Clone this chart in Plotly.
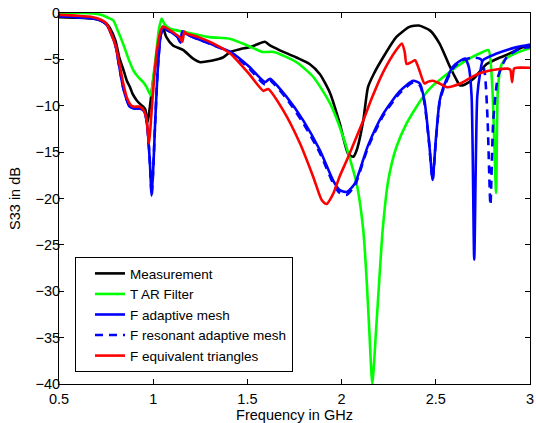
import plotly.graph_objects as go

# Measured S33 (dB) versus frequency (GHz)
meas_f = [0.5, 0.6, 0.68, 0.72, 0.75, 0.77, 0.80, 0.82, 0.84, 0.86, 0.877, 0.89, 0.912, 0.93,
          0.947, 0.958, 0.97, 0.98, 0.995, 1.01, 1.025, 1.04, 1.05, 1.07, 1.105, 1.16, 1.21,
          1.25, 1.29, 1.32, 1.37, 1.41, 1.46, 1.51, 1.55, 1.593, 1.62, 1.67, 1.76, 1.83,
          1.885, 1.94, 1.99, 2.035, 2.062, 2.08, 2.115, 2.14, 2.17, 2.22, 2.29, 2.36, 2.41,
          2.47, 2.52, 2.575, 2.61, 2.628, 2.655, 2.70, 2.77, 2.84, 2.89, 2.96, 3.0]
meas_db = [-0.45, -0.5, -0.6, -0.8, -1.1, -1.6, -3.0, -4.8, -6.0, -7.3, -8.0, -8.7, -9.4, -9.8,
           -10.1, -10.4, -11.8, -10.5, -8.0, -5.8, -3.8, -2.2, -1.5, -2.6, -3.5, -4.0, -4.9,
           -5.3, -5.2, -5.1, -4.8, -4.2, -3.9, -3.7, -3.4, -3.1, -3.5, -4.0, -4.8, -5.5,
           -6.6, -8.7, -11.9, -15.2, -15.5, -14.8, -11.6, -8.0, -6.6, -4.8, -2.6, -1.5, -1.35,
           -1.9, -3.3, -5.8, -7.2, -7.8, -7.7, -7.1, -5.5, -4.8, -4.4, -3.7, -3.6]

# T AR Filter
tar_f = [0.5, 0.6, 0.68, 0.735, 0.76, 0.788, 0.81, 0.84, 0.87, 0.895, 0.92, 0.947, 0.965, 0.987,
         1.0, 1.015, 1.03, 1.045, 1.06, 1.09, 1.18, 1.30, 1.41, 1.50, 1.58, 1.64, 1.76,
         1.85, 1.94, 2.009, 2.08, 2.115, 2.133, 2.147, 2.163, 2.183, 2.20, 2.218, 2.248, 2.29,
         2.345, 2.43, 2.485, 2.54, 2.61, 2.68, 2.75, 2.78, 2.80, 2.82, 2.83, 2.85, 2.88, 2.93, 3.0]
tar_db = [0.0, 0.0, -0.05, -0.27, -0.5, -0.8, -1.8, -3.3, -5.0, -6.2, -6.9, -7.45, -8.0, -8.9,
          -7.0, -4.5, -1.8, -0.6, -1.2, -1.7, -2.1, -2.6, -2.8, -3.5, -4.2, -4.2, -5.3,
          -6.9, -9.8, -13.4, -18.4, -23.4, -28.8, -34.2, -40.0, -34.2, -28.8, -23.4, -18.0, -14.5,
          -11.9, -9.1, -7.8, -6.9, -5.8, -4.9, -4.2, -4.0, -8.0, -19.4, -8.0, -5.5, -4.8, -4.3, -3.8]

# F adaptive mesh
am_f = [0.5, 0.6, 0.68, 0.72, 0.75, 0.77, 0.80, 0.82, 0.84, 0.86, 0.875, 0.895, 0.93, 0.947,
        0.958, 0.97, 0.982, 0.992, 1.002, 1.01, 1.025, 1.04, 1.055, 1.07, 1.105, 1.13, 1.145,
        1.155, 1.17, 1.21, 1.30, 1.41, 1.51, 1.593, 1.62, 1.71, 1.797, 1.885, 1.956, 1.99,
        2.027, 2.07, 2.14, 2.22, 2.31, 2.38, 2.415, 2.44, 2.465, 2.483, 2.50, 2.52, 2.54,
        2.59, 2.625, 2.655, 2.675, 2.69, 2.704, 2.72, 2.735, 2.75, 2.82, 2.89, 2.95, 3.0]
am_db = [-0.35, -0.45, -0.6, -0.8, -1.2, -1.9, -3.5, -5.8, -8.0, -9.4, -10.1, -10.3, -10.3, -10.5,
         -10.9, -12.5, -16.0, -19.7, -16.0, -12.0, -5.8, -2.4, -1.5, -1.8, -2.2, -2.6, -3.2,
         -2.0, -2.2, -2.6, -3.3, -4.2, -5.8, -7.45, -7.1, -9.1, -11.6, -14.8, -18.1, -19.1,
         -19.3, -18.4, -14.3, -10.9, -8.4, -7.3, -7.6, -9.5, -14.0, -18.0, -13.7, -9.5, -8.0,
         -5.8, -5.2, -4.9, -5.8, -9.0, -26.6, -9.0, -6.5, -5.1, -4.4, -3.9, -3.6, -3.4]

# F resonant adaptive mesh
ram_f = [0.5, 0.6, 0.68, 0.72, 0.75, 0.77, 0.80, 0.82, 0.84, 0.86, 0.875, 0.895, 0.93, 0.947,
         0.958, 0.97, 0.982, 0.992, 1.002, 1.01, 1.025, 1.04, 1.055, 1.07, 1.105, 1.13, 1.145,
         1.155, 1.17, 1.21, 1.30, 1.41, 1.51, 1.593, 1.62, 1.71, 1.797, 1.885, 1.956, 1.99,
         2.027, 2.07, 2.14, 2.22, 2.31, 2.38, 2.415, 2.44, 2.465, 2.483, 2.50, 2.52, 2.54,
         2.59, 2.64, 2.70, 2.74, 2.76, 2.775, 2.79, 2.805, 2.83, 2.875, 2.95, 3.0]
ram_db = [-0.35, -0.45, -0.6, -0.8, -1.2, -1.9, -3.5, -5.8, -8.0, -9.4, -10.1, -10.3, -10.3, -10.5,
          -10.9, -12.5, -16.0, -19.7, -16.0, -12.0, -5.8, -2.4, -1.5, -1.8, -2.2, -2.6, -3.2,
          -2.0, -2.2, -2.6, -3.3, -4.3, -6.0, -7.7, -7.3, -9.3, -11.9, -15.1, -18.4, -19.4,
          -19.6, -18.6, -14.5, -11.1, -8.6, -7.5, -7.8, -9.7, -14.2, -18.0, -13.9, -9.7, -8.2,
          -6.0, -5.1, -4.8, -5.0, -6.5, -11.6, -20.7, -11.6, -6.9, -4.8, -3.8, -3.7]

# F equivalent triangles
eq_f = [0.5, 0.6, 0.68, 0.72, 0.75, 0.77, 0.80, 0.82, 0.84, 0.86, 0.885, 0.90, 0.93, 0.95,
        0.965, 0.978, 0.99, 1.005, 1.02, 1.04, 1.05, 1.07, 1.10, 1.14, 1.155, 1.165, 1.175,
        1.24, 1.31, 1.41, 1.51, 1.585, 1.61, 1.69, 1.78, 1.85, 1.895, 1.92, 1.955, 1.99,
        2.027, 2.062, 2.115, 2.16, 2.22, 2.29, 2.32, 2.335, 2.345, 2.37, 2.39, 2.41, 2.44,
        2.46, 2.485, 2.52, 2.56, 2.63, 2.70, 2.75, 2.82, 2.88, 2.895, 2.905, 2.915, 2.93, 3.0]
eq_db = [-0.2, -0.3, -0.45, -0.7, -1.1, -1.9, -3.5, -5.4, -7.5, -9.1, -10.0, -10.1, -10.1, -10.5,
         -11.5, -14.1, -11.0, -7.0, -4.0, -1.9, -1.5, -1.6, -2.0, -2.6, -3.1, -2.0, -2.2,
         -2.6, -3.2, -4.4, -6.6, -8.4, -8.2, -10.5, -14.1, -17.7, -20.2, -20.6, -19.5, -17.6,
         -15.9, -14.2, -11.6, -9.2, -6.4, -4.0, -3.3, -4.2, -5.5, -5.3, -5.1, -6.0, -7.6,
         -7.4, -7.3, -7.6, -8.0, -7.6, -6.8, -6.4, -6.1, -6.0, -6.1, -7.45, -6.0, -5.9, -5.9]

x_ticks = [0.5, 1, 1.5, 2, 2.5, 3]
y_ticks = [0, -5, -10, -15, -20, -25, -30, -35, -40]

series = [
    ("Measurement", meas_f, meas_db, "#000000", "solid"),
    ("T AR Filter", tar_f, tar_db, "#00ff00", "solid"),
    ("F adaptive mesh", am_f, am_db, "#0000ff", "solid"),
    ("F resonant adaptive mesh", ram_f, ram_db, "#0000ff", "8px,6px"),
    ("F equivalent triangles", eq_f, eq_db, "#ff0000", "solid"),
]

fig = go.Figure()
for name, xs, ys, color, dash in series:
    fig.add_trace(go.Scatter(
        x=xs, y=ys, mode="lines", name=name,
        line=dict(color=color, width=2.6, dash=dash, shape="spline", smoothing=0.6),
    ))

font_family = "Liberation Sans, Arial, Helvetica, sans-serif"
axis_common = dict(
    showline=True, linecolor="black", linewidth=1, mirror="ticks",
    ticks="inside", ticklen=5, tickcolor="black", tickwidth=1,
    showgrid=False, zeroline=False, automargin=False,
    tickfont=dict(family=font_family, size=14.5, color="black"),
)

fig.update_layout(
    width=536, height=423,
    margin=dict(l=59, r=6, t=13, b=39, autoexpand=False),
    paper_bgcolor="white", plot_bgcolor="white",
    font=dict(family=font_family, size=14.5, color="black"),
    xaxis=dict(range=[0.5, 3], tickvals=x_ticks, ticktext=[str(v) for v in x_ticks],
               ticklabelstandoff=2,
               title=dict(text="Frequency in GHz", standoff=4,
                          font=dict(family=font_family, size=14.5)),
               **axis_common),
    yaxis=dict(range=[-40, 0], tickvals=y_ticks, ticklabelstandoff=-5,
               title=dict(text="S33 in dB", standoff=11,
                          font=dict(family=font_family, size=14.5)),
               **axis_common),
    legend=dict(
        x=0.034, y=0.342, xanchor="left", yanchor="top",
        bgcolor="white", bordercolor="black", borderwidth=1,
        font=dict(family=font_family, size=13.5, color="black"),
        tracegroupgap=0, itemwidth=30, indentation=14,
    ),
    showlegend=True,
)

fig.write_html("out.html")
